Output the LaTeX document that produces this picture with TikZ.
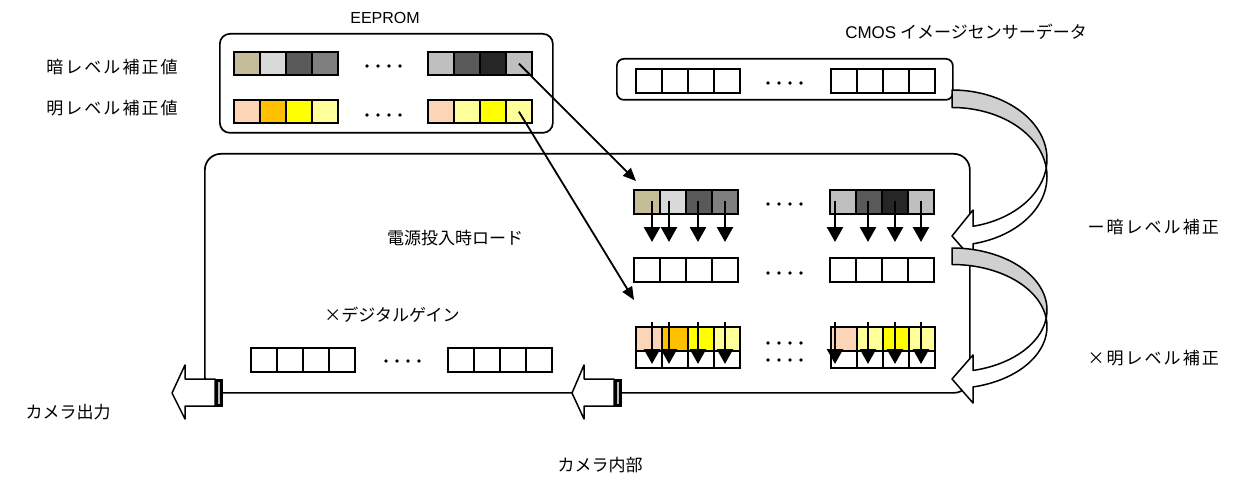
\documentclass[tikz,border=0pt]{standalone}
\usepackage{fontspec}
\newfontfamily\jp{Noto Sans CJK JP}
\newfontfamily\jpsp{Noto Sans CJK JP}[LetterSpace=12]
\newfontfamily\lat{Liberation Sans}
\usetikzlibrary{arrows.meta}
\definecolor{ctan}{HTML}{C4BD97}
\definecolor{cga}{HTML}{D9D9D9}
\definecolor{cgb}{HTML}{595959}
\definecolor{cgc}{HTML}{7F7F7F}
\definecolor{cgd}{HTML}{BFBFBF}
\definecolor{cge}{HTML}{262626}
\definecolor{cpeach}{HTML}{FBD5B5}
\definecolor{corange}{HTML}{FFC000}
\definecolor{cyel}{HTML}{FFFF00}
\definecolor{clyel}{HTML}{FFFF99}
\definecolor{cband}{HTML}{D0D0D0}
\tikzset{
  cell/.style={draw, line width=1.8pt, minimum width=26pt, minimum height=24pt, inner sep=0pt, anchor=north west},
  box/.style={draw, line width=1.7pt, rounded corners=#1, inner sep=0pt, anchor=north west},
  lbl/.style={font=\jp\fontsize{17}{20}\selectfont, inner sep=0pt},
  lbls/.style={font=\jpsp\fontsize{17}{20}\selectfont, inner sep=0pt},
  darr/.style={line width=2.6pt, -{Triangle[length=15pt,width=16pt]}},
  diag/.style={line width=1.8pt, -{Triangle[length=13pt,width=11pt]}},
  outl/.style={draw, line width=1.5pt, line join=round},
  tailbar/.style={line width=3pt, fill=gray!55},
  dot/.style={fill=black, draw=none}
}
\begin{document}
\begin{tikzpicture}[x=1pt,y=-1pt]
\useasboundingbox (0,0) rectangle (1235,484);

% ---------- boxes ----------
\node[box=10pt, minimum width=333pt, minimum height=99pt] (eeprom) at (219,33) {};
\node[box=7pt, minimum width=336pt, minimum height=41pt] (cmos) at (616,58) {};
\node[box=16pt, minimum width=765pt, minimum height=239pt] (cam) at (204,153) {};

% ---------- EEPROM rows ----------
\foreach \c [count=\i] in {ctan,cga,cgb,cgc}
  \node[cell, minimum height=23.5pt, fill=\c] (ea\i) at ({233+26*(\i-1)},51) {};
\foreach \c [count=\i] in {cgd,cgb,cge,cgd}
  \node[cell, minimum height=23.5pt, fill=\c] (eb\i) at ({427+26*(\i-1)},51) {};
\foreach \c [count=\i] in {cpeach,corange,cyel,clyel}
  \node[cell, minimum height=23.5pt, fill=\c] (ec\i) at ({233+26*(\i-1)},99) {};
\foreach \c [count=\i] in {cpeach,clyel,cyel,clyel}
  \node[cell, minimum height=23.5pt, fill=\c] (ed\i) at ({427+26*(\i-1)},99) {};

% ---------- CMOS row ----------
\foreach \i in {1,...,4} {
  \node[cell] (ca\i) at ({635+26*(\i-1)},68) {};
  \node[cell] (cb\i) at ({830+26*(\i-1)},68) {};
}

% ---------- row A (dark copies) ----------
\foreach \c [count=\i] in {ctan,cga,cgb,cgc}
  \node[cell, fill=\c] (ra\i) at ({633+26*(\i-1)},189) {};
\foreach \c [count=\i] in {cgd,cgb,cge,cgd}
  \node[cell, fill=\c] (rb\i) at ({829+26*(\i-1)},189) {};

% ---------- row B (white) ----------
\foreach \i in {1,...,4} {
  \node[cell] (rc\i) at ({633+26*(\i-1)},257) {};
  \node[cell] (rd\i) at ({829+26*(\i-1)},257) {};
}

% ---------- row C (white under, coloured on top) ----------
\foreach \i in {1,...,4} {
  \node[cell] (re\i) at ({635+26*(\i-1)},343) {};
  \node[cell] (rf\i) at ({830+26*(\i-1)},343) {};
}
\foreach \c [count=\i] in {cpeach,corange,cyel,clyel}
  \node[cell, fill=\c] (rg\i) at ({635+26*(\i-1)},326) {};
\foreach \c [count=\i] in {cpeach,clyel,cyel,clyel}
  \node[cell, fill=\c] (rh\i) at ({830+26*(\i-1)},326) {};

% ---------- row D (digital gain) ----------
\foreach \i in {1,...,4} {
  \node[cell] (ri\i) at ({250+26*(\i-1)},347) {};
  \node[cell] (rj\i) at ({447+26*(\i-1)},347) {};
}

% ---------- dots ----------
\foreach \px/\py in {367/66, 367/115, 768/83, 768/204, 768/273, 768/343, 768/360, 386/361}
  \foreach \k in {0,...,3}
    \fill[dot] ({\px+11*\k},\py) circle (1.8);

% ---------- down arrows ----------
\foreach \x [count=\i] in {652,669,698,725,835,868,895,921} {
  \coordinate (dsa\i) at (\x,201);
  \coordinate (dea\i) at (\x,242);
  \draw[darr] (dsa\i) -- (dea\i);
  \coordinate (dsb\i) at (\x,322);
  \coordinate (deb\i) at (\x,364);
  \draw[darr] (dsb\i) -- (deb\i);
}

% ---------- load arrows ----------
\coordinate (t1) at (636,181);
\coordinate (t2) at (634,300);
\draw[diag] (eb4.center) -- (t1);
\draw[diag] (ed4.center) -- (t2);

% ---------- curved arrow 1 (dark correction) ----------
\draw[outl, fill=cband]
  plot[domain=-90:7.28, samples=50] ({952+95*cos(\x)},{159+69*sin(\x)})
  -- plot[domain=-7.28:-90, samples=50] ({952+95*cos(\x)},{176.5+69*sin(\x)}) -- cycle;
\draw[outl, fill=white]
  plot[domain=-7.28:77.23, samples=50] ({952+95*cos(\x)},{176.5+69*sin(\x)})
  -- (973,260) -- (952,236) -- (973,210)
  -- plot[domain=77.23:7.28, samples=50] ({952+95*cos(\x)},{159+69*sin(\x)}) -- cycle;

% ---------- curved arrow 2 (bright correction) ----------
\draw[outl, fill=cband]
  plot[domain=-90:7.65, samples=50] ({952+95*cos(\x)},{310+62*sin(\x)})
  -- plot[domain=-7.65:-90, samples=50] ({952+95*cos(\x)},{326.5+62*sin(\x)}) -- cycle;
\draw[outl, fill=white]
  plot[domain=-7.65:77.23, samples=50] ({952+95*cos(\x)},{326.5+62*sin(\x)})
  -- (973,403) -- (952,379) -- (973,355)
  -- plot[domain=77.23:7.65, samples=50] ({952+95*cos(\x)},{310+62*sin(\x)}) -- cycle;

% ---------- output arrows ----------
\draw[outl, fill=white] (172,393) -- (185,365) -- (185,379) -- (215,379) -- (215,406) -- (185,406) -- (185,419) -- cycle;
\draw[tailbar] (216.5,380) rectangle (221.5,405);
\draw[outl, fill=white] (572,393) -- (584,365) -- (584,379) -- (614,379) -- (614,406) -- (584,406) -- (584,419) -- cycle;
\draw[tailbar] (615.5,380) rectangle (620.5,405);

% ---------- labels ----------
\node[inner sep=0pt, font=\lat\fontsize{16}{19}\selectfont] (leeprom) at (385,18) {EEPROM};
\node[lbls] (ldark) at (112,67) {暗レベル補正値};
\node[lbls] (lbright) at (112,108) {明レベル補正値};
\node[lbl] (lcmos) at (966,32) {{\lat CMOS} イメージセンサーデータ};
\node[lbl] (lload) at (455,238) {電源投入時ロード};
\node[lbl] (lgain) at (392,315) {×デジタルゲイン};
\node[lbls, anchor=east] (ldc) at (1219,227) {ー暗レベル補正};
\node[lbls, anchor=east] (lbc) at (1219,358) {×明レベル補正};
\node[lbl] (lout) at (68,412) {カメラ出力};
\node[lbl] (lin) at (600,465) {カメラ内部};
\end{tikzpicture}
\end{document}
